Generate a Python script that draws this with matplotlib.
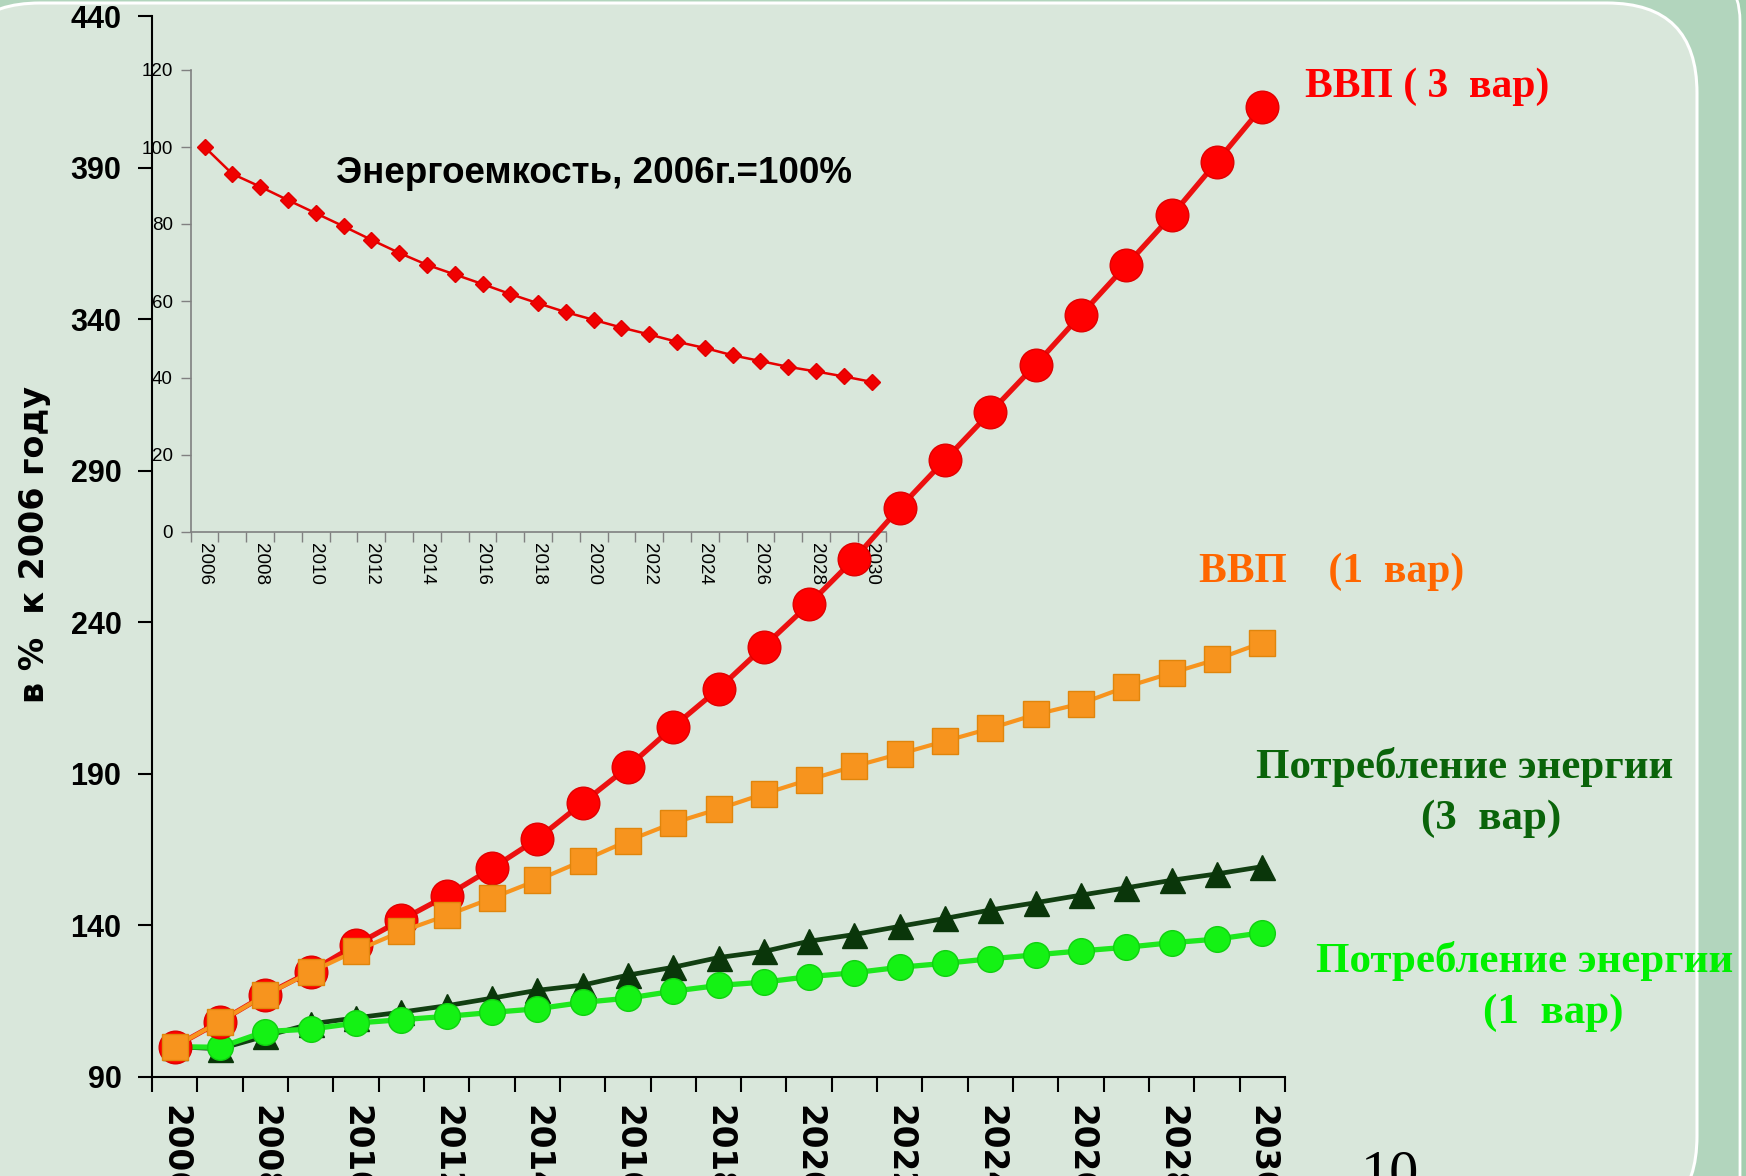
import matplotlib
matplotlib.use('Agg')
import matplotlib.pyplot as plt
from matplotlib.patches import FancyBboxPatch
import numpy as np

# ---------------- data ----------------
years = list(range(2006, 2031))
gdp_var3 = [100, 108.3, 117.1, 124.8, 133.6, 141.8, 149.8, 158.8, 168.5, 180.4, 192.2,
            205.5, 218.0, 232.0, 246.0, 261.0, 277.8, 293.6, 309.3, 325.0, 341.5,
            357.8, 374.2, 392.0, 410.0]
gdp_var1 = [100, 108.3, 117.0, 124.6, 131.6, 138.0, 143.3, 149.0, 154.9, 161.3, 167.9,
            173.8, 178.4, 183.4, 188.1, 192.5, 196.6, 200.8, 205.0, 209.6, 213.2,
            218.7, 223.3, 227.8, 233.3]
energy_var3 = [100, 99.3, 103.5, 107.5, 109.5, 111.4, 113.5, 116.0, 118.6, 120.3, 123.6,
               126.2, 129.4, 131.4, 134.8, 137.0, 139.7, 142.3, 145.1, 147.5, 150.0,
               152.4, 154.9, 157.0, 159.4]
energy_var1 = [100, 99.8, 105.0, 105.8, 107.8, 108.9, 110.0, 111.3, 112.5, 114.6, 116.0,
               118.3, 120.2, 121.3, 123.1, 124.4, 126.2, 127.5, 129.0, 130.3, 131.6,
               132.8, 134.3, 135.5, 137.6]
intensity = [100, 93.0, 89.7, 86.2, 82.8, 79.4, 75.9, 72.5, 69.4, 66.9, 64.4, 61.8,
             59.4, 57.1, 55.1, 53.1, 51.3, 49.4, 47.8, 45.9, 44.4, 42.9, 41.7, 40.4, 39.0]
main_yticks = [90, 140, 190, 240, 290, 340, 390, 440]
inset_yticks = [0, 20, 40, 60, 80, 100, 120]
label_years = years[::2]

inset_title = 'Энергоемкость, 2006г.=100%'
y_label = 'в %  к 2006 году'
lbl_gdp3 = 'ВВП ( 3  вар)'
lbl_gdp1 = 'ВВП    (1  вар)'
lbl_energy = 'Потребление энергии'
lbl_var3 = '(3  вар)'
lbl_var1 = '(1  вар)'
page_no = '10'

# ---------------- figure ----------------
W, H = 1746, 1176
fig = plt.figure(figsize=(W / 100, H / 100), dpi=100, facecolor='#A3CEAF')


def fx(px):
    return px / W


def fy(py):
    return 1 - py / H


# slide decoration (in inches, uniform scaling)
outer = FancyBboxPatch((-0.5, -0.5), 17.40 + 0.5, 12.05 + 0.5,
                       boxstyle='round,pad=0,rounding_size=0.5',
                       transform=fig.dpi_scale_trans, facecolor='#B2D5BD',
                       edgecolor='white', lw=2, zorder=-20)
fig.patches.append(outer)
panel = FancyBboxPatch((-0.5, -0.5), 16.97 + 0.5, (H - 3) / 100 + 0.5,
                       boxstyle='round,pad=0,rounding_size=0.9',
                       transform=fig.dpi_scale_trans, facecolor='#D9E7DB',
                       edgecolor='white', lw=2.2, zorder=-10)
fig.patches.append(panel)

# ---------------- main axes ----------------
ax = fig.add_axes([fx(152), fy(1077), (1285 - 152) / W, (1077 - 16) / H])
ax.set_zorder(2)
ax.patch.set_visible(False)

ax.plot(years, energy_var3, color='#123F12', lw=3.4, marker='^', ms=18,
        mfc='#0A360A', mec='#0A360A', zorder=3, clip_on=False)
ax.plot(years, energy_var1, color='#1EE81E', lw=3.8, marker='o', ms=18.5,
        mfc='#14F214', mec='#10D010', zorder=4, clip_on=False)
ax.plot(years, gdp_var3, color='#EC1010', lw=3.8, marker='o', ms=23.5,
        mfc='#FF0000', mec='#E00000', zorder=5, clip_on=False)
ax.plot(years, gdp_var1, color='#F7941E', lw=3.0, marker='s', ms=18.5,
        mfc='#F7941E', mec='#E0850C', zorder=6, clip_on=False)

ax.set_xlim(2005.5, 2030.5)
ax.set_ylim(90, 440)
ax.set_xticks(np.arange(2005.5, 2031, 1.0))
ax.set_xticks(label_years, minor=True)
ax.set_xticklabels([str(y) for y in label_years], minor=True, rotation=-90,
                   fontfamily='DejaVu Sans', fontweight='bold', fontsize=23.5)
ax.tick_params(axis='x', which='major', length=11, width=1.5, direction='out',
               labelbottom=False, color='black')
ax.tick_params(axis='x', which='minor', length=0, pad=20)
ax.set_yticks(main_yticks)
ax.set_yticklabels([str(v) for v in main_yticks], fontfamily='Liberation Sans',
                   fontweight='bold', fontsize=22)
ax.tick_params(axis='y', length=10, width=1.5, pad=12, color='black')
for s in ('top', 'right'):
    ax.spines[s].set_visible(False)
for s in ('left', 'bottom'):
    ax.spines[s].set_linewidth(1.5)
    ax.spines[s].set_color('black')

# ---------------- inset ----------------
ins = fig.add_axes([fx(190.7), fy(532), 694.8 / W, (532 - 70) / H])
ins.set_zorder(1)
ins.patch.set_visible(False)
ins.plot(years, intensity, color='#E60000', lw=1.8, marker='D', ms=8,
         mfc='#F00000', mec='#E00000', clip_on=False)
ins.set_xlim(2005.5, 2030.5)
ins.set_ylim(0, 120)
ins.set_xticks(np.arange(2005.5, 2031, 1.0))
ins.set_xticks(label_years, minor=True)
ins.set_xticklabels([str(y) for y in label_years], minor=True, rotation=-90,
                    fontfamily='Liberation Sans', fontsize=13.5)
ins.tick_params(axis='x', which='major', length=7, width=1, color='#808080',
                labelbottom=False)
ins.tick_params(axis='x', which='minor', length=0, pad=8)
ins.set_yticks(inset_yticks)
ins.set_yticklabels([str(v) for v in inset_yticks], fontfamily='Liberation Sans',
                    fontsize=13.5)
ins.tick_params(axis='y', length=7, width=1, color='#808080', pad=6)
for s in ('top', 'right'):
    ins.spines[s].set_visible(False)
for s in ('left', 'bottom'):
    ins.spines[s].set_linewidth(1.2)
    ins.spines[s].set_color('#808080')

fig.text(fx(336), fy(183), inset_title, fontfamily='Liberation Sans',
         fontweight='bold', fontsize=26.5, va='baseline', ha='left', color='black')

# ---------------- texts ----------------
fig.text(fx(35), fy(544), y_label, rotation=90, ha='center', va='center',
         fontfamily='DejaVu Sans', fontweight='bold', fontsize=24)

serif = dict(fontfamily='Liberation Serif', fontweight='bold', va='baseline')
fig.text(fx(1305), fy(97), lbl_gdp3, color='#FF0000', fontsize=30, ha='left', **serif)
fig.text(fx(1199), fy(582), lbl_gdp1, color='#FF6600', fontsize=30, ha='left', **serif)
fig.text(fx(1465), fy(778), lbl_energy, color='#0A640A', fontsize=31, ha='center', **serif)
fig.text(fx(1491), fy(829), lbl_var3, color='#0A640A', fontsize=31, ha='center', **serif)
fig.text(fx(1525), fy(972), lbl_energy, color='#00F000', fontsize=31, ha='center', **serif)
fig.text(fx(1553), fy(1023), lbl_var1, color='#00F000', fontsize=31, ha='center', **serif)

fig.text(fx(1361), fy(1190), page_no, fontfamily='Liberation Serif', fontsize=42,
         ha='left', va='baseline', color='black')

fig.savefig('out.png', dpi=100, facecolor=fig.get_facecolor())
